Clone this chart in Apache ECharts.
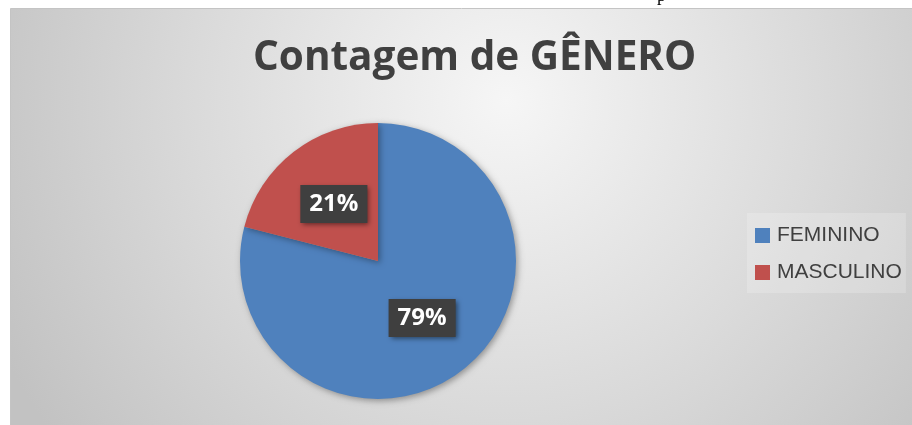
<!DOCTYPE html>
<html>
<head>
<meta charset="utf-8">
<script src="https://cdn.jsdelivr.net/npm/echarts@6/dist/echarts.min.js"></script>
<style>
html,body{margin:0;padding:0;background:#fff;}
#chart{width:912px;height:425px;}
</style>
</head>
<body>
<div id="chart"></div>
<script>
const titleText = 'Contagem de GÊNERO';
const categories = ['FEMININO', 'MASCULINO'];
const values = [79, 21];
const colors = ['#4f81bd', '#c0504d'];

const chart = echarts.init(document.getElementById('chart'), null, {renderer: 'canvas'});
const option = {
  animation: false,
  backgroundColor: '#ffffff',
  graphic: [
    {
      type: 'rect', z: -10, left: 10, top: 8,
      shape: {width: 902, height: 417},
      style: {
        fill: new echarts.graphic.RadialGradient(0.55, 0.22, 1.35, [
          {offset: 0, color: '#f6f6f6'},
          {offset: 0.55, color: '#dadada'},
          {offset: 1, color: '#c2c2c2'}
        ]),
        stroke: '#c4c4c4', lineWidth: 1
      }
    },
    {
      type: 'text', left: 657, top: -13, z: 5,
      style: {text: 'p', fontFamily: 'Liberation Serif', fontSize: 18, fill: '#000'}
    }
  ],
  title: {
    text: titleText,
    left: 248,
    top: 33,
    textStyle: {
      fontFamily: 'Open Sans',
      fontWeight: 'bold',
      fontSize: 40.5,
      color: '#404040'
    }
  },
  legend: {
    orient: 'vertical',
    left: 747,
    top: 213,
    padding: [12, 4, 10, 8],
    backgroundColor: 'rgba(255,255,255,0.2)',
    itemWidth: 15,
    itemHeight: 15,
    itemGap: 16,
    icon: 'rect',
    data: categories,
    textStyle: {fontFamily: 'Liberation Sans', fontSize: 21, color: '#404040', padding: [0, 0, 0, 2]}
  },
  series: [{
    type: 'pie',
    center: [378, 261],
    radius: [0, 138],
    startAngle: 90,
    clockwise: true,
    data: categories.map((c, i) => ({name: c, value: values[i], itemStyle: {color: colors[i]}})),
    itemStyle: {
      shadowBlur: 6, shadowColor: 'rgba(0,0,0,0.35)', shadowOffsetX: 2, shadowOffsetY: 2
    },
    label: {
      show: true,
      position: 'inside',
      formatter: (p) => Math.round(p.percent) + '%',
      color: '#ffffff',
      fontFamily: 'Open Sans',
      fontWeight: 'bold',
      fontSize: 24,
      backgroundColor: '#3f3f3f',
      padding: [8, 9, 6, 9],
      shadowBlur: 5,
      shadowColor: 'rgba(0,0,0,0.5)',
      shadowOffsetX: 2,
      shadowOffsetY: 2
    },
    labelLine: {show: false},
    emphasis: {disabled: true}
  }]
};
chart.setOption(option);
</script>
</body>
</html>
